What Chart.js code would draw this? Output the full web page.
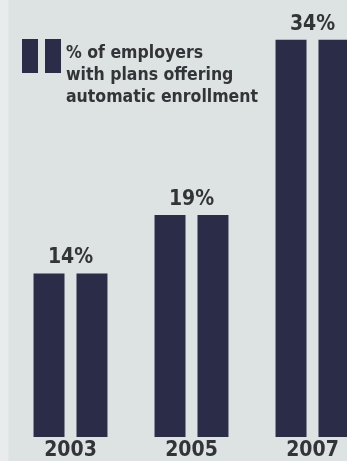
<!DOCTYPE html>
<html>
<head>
<meta charset="utf-8">
<script src="https://cdn.jsdelivr.net/npm/chart.js@4/dist/chart.umd.min.js"></script>
<style>
  html, body { margin: 0; padding: 0; width: 347px; height: 461px; overflow: hidden; }
  body {
    background: linear-gradient(to right, #e9ecec 0, #e9ecec 8px, #dde2e3 9px, #dde2e3 100%);
    font-family: "Liberation Sans Narrow", "DejaVu Sans Condensed", sans-serif;
    position: relative;
  }
  #wrap { position: absolute; left: 0; top: 0; width: 378px; height: 461px; }
  #legend { position: absolute; left: 22px; top: 39px; }
  #legend .sw { position: absolute; top: 0; width: 16px; height: 34px; background: #2a2c48; }
  #legend .txt {
    position: absolute; left: 44px; top: 2px; white-space: nowrap;
    font-size: 17.5px; line-height: 22px; color: #333438; font-weight: bold;
  }
</style>
</head>
<body>
<div id="wrap"><canvas id="chart"></canvas></div>
<div id="legend">
  <div class="sw" style="left:0"></div>
  <div class="sw" style="left:23px"></div>
  <div class="txt">% of employers<br>with plans offering<br>automatic enrollment</div>
</div>
<script>
const years = ['2003', '2005', '2007']
const shares = [14, 19, 34]
const valueLabels = ['14%', '19%', '34%']

const barColor = '#2a2c48'
const textColor = '#333438'
const fontFamily = '"Liberation Sans Narrow", "DejaVu Sans Condensed", sans-serif'

// year labels under bars and value labels above each pair
const labelPlugin = {
  id: 'labels',
  afterDatasetsDraw(chart) {
    const { ctx, scales: { x, y }, chartArea } = chart
    ctx.save()
    ctx.fillStyle = textColor
    ctx.textAlign = 'center'
    years.forEach((yr, i) => {
      const cx = x.getPixelForValue(i)
      ctx.font = 'bold 21px ' + fontFamily
      ctx.textBaseline = 'top'
      ctx.fillText(yr, cx, chartArea.bottom + 3)
      ctx.font = 'bold 21px ' + fontFamily
      ctx.textBaseline = 'alphabetic'
      ctx.fillText(valueLabels[i], cx, y.getPixelForValue(shares[i]) - 10)
    })
    ctx.restore()
  }
}

const ds = {
  data: shares,
  backgroundColor: barColor,
  borderWidth: 0,
  categoryPercentage: 0.71,
  barPercentage: 0.721,
}

new Chart(document.getElementById('chart'), {
  type: 'bar',
  data: {
    labels: years,
    datasets: [ { ...ds }, { ...ds } ]
  },
  options: {
    responsive: true,
    maintainAspectRatio: false,
    animation: false,
    layout: { padding: { left: 10, right: 5, top: 0, bottom: 24 } },
    plugins: { legend: { display: false }, tooltip: { enabled: false } },
    scales: {
      x: { display: false },
      y: { display: false, min: 0, max: 37.4 }
    }
  },
  plugins: [labelPlugin]
})
</script>
</body>
</html>
